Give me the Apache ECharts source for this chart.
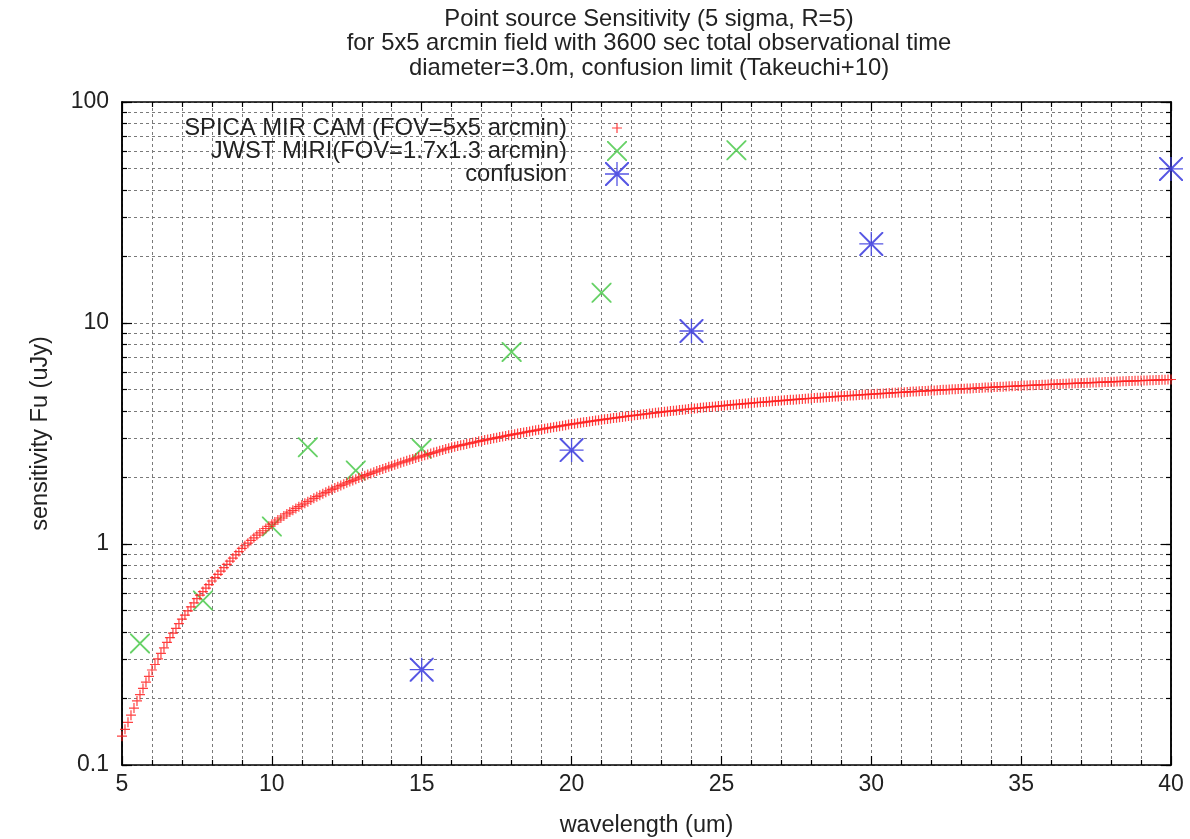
<!DOCTYPE html>
<html>
<head>
<meta charset="utf-8">
<script src="https://cdn.jsdelivr.net/npm/echarts@6/dist/echarts.min.js"></script>
<style>
html,body{margin:0;padding:0;background:#fff;}
#chart{width:1190px;height:839px;}
</style>
</head>
<body>
<div id="chart"></div>
<script>
// ---- data ----
const titleLines = [
  'Point source Sensitivity (5 sigma, R=5)',
  'for 5x5 arcmin field with 3600 sec total observational time',
  'diameter=3.0m, confusion limit (Takeuchi+10)'
];
const seriesNames = ['SPICA MIR CAM (FOV=5x5 arcmin)', 'JWST MIRI(FOV=1.7x1.3 arcmin)', 'confusion'];
const xAxisName = 'wavelength (um)';
const yAxisName = 'sensitivity Fu (uJy)';
const yLabelValues = [0.1, 1, 10, 100];
const yGridValues = [0.1,0.2,0.3,0.4,0.5,0.6,0.7,0.8,0.9,1,2,3,4,5,6,7,8,9,10,20,30,40,50,60,70,80,90,100];

const spicaWave = [
5.0,5.1,5.2,5.3,5.4,5.5,5.6,5.7,5.8,5.9,
6.0,6.1,6.2,6.3,6.4,6.5,6.6,6.7,6.8,6.9,
7.0,7.1,7.2,7.3,7.4,7.5,7.6,7.7,7.8,7.9,
8.0,8.1,8.2,8.3,8.4,8.5,8.6,8.7,8.8,8.9,
9.0,9.1,9.2,9.3,9.4,9.5,9.6,9.7,9.8,9.9,
10.0,10.1,10.2,10.3,10.4,10.5,10.6,10.7,10.8,10.9,
11.0,11.1,11.2,11.3,11.4,11.5,11.6,11.7,11.8,11.9,
12.0,12.1,12.2,12.3,12.4,12.5,12.6,12.7,12.8,12.9,
13.0,13.1,13.2,13.3,13.4,13.5,13.6,13.7,13.8,13.9,
14.0,14.1,14.2,14.3,14.4,14.5,14.6,14.7,14.8,14.9,
15.0,15.1,15.2,15.3,15.4,15.5,15.6,15.7,15.8,15.9,
16.0,16.1,16.2,16.3,16.4,16.5,16.6,16.7,16.8,16.9,
17.0,17.1,17.2,17.3,17.4,17.5,17.6,17.7,17.8,17.9,
18.0,18.1,18.2,18.3,18.4,18.5,18.6,18.7,18.8,18.9,
19.0,19.1,19.2,19.3,19.4,19.5,19.6,19.7,19.8,19.9,
20.0,20.1,20.2,20.3,20.4,20.5,20.6,20.7,20.8,20.9,
21.0,21.1,21.2,21.3,21.4,21.5,21.6,21.7,21.8,21.9,
22.0,22.1,22.2,22.3,22.4,22.5,22.6,22.7,22.8,22.9,
23.0,23.1,23.2,23.3,23.4,23.5,23.6,23.7,23.8,23.9,
24.0,24.1,24.2,24.3,24.4,24.5,24.6,24.7,24.8,24.9,
25.0,25.1,25.2,25.3,25.4,25.5,25.6,25.7,25.8,25.9,
26.0,26.1,26.2,26.3,26.4,26.5,26.6,26.7,26.8,26.9,
27.0,27.1,27.2,27.3,27.4,27.5,27.6,27.7,27.8,27.9,
28.0,28.1,28.2,28.3,28.4,28.5,28.6,28.7,28.8,28.9,
29.0,29.1,29.2,29.3,29.4,29.5,29.6,29.7,29.8,29.9,
30.0,30.1,30.2,30.3,30.4,30.5,30.6,30.7,30.8,30.9,
31.0,31.1,31.2,31.3,31.4,31.5,31.6,31.7,31.8,31.9,
32.0,32.1,32.2,32.3,32.4,32.5,32.6,32.7,32.8,32.9,
33.0,33.1,33.2,33.3,33.4,33.5,33.6,33.7,33.8,33.9,
34.0,34.1,34.2,34.3,34.4,34.5,34.6,34.7,34.8,34.9,
35.0,35.1,35.2,35.3,35.4,35.5,35.6,35.7,35.8,35.9,
36.0,36.1,36.2,36.3,36.4,36.5,36.6,36.7,36.8,36.9,
37.0,37.1,37.2,37.3,37.4,37.5,37.6,37.7,37.8,37.9,
38.0,38.1,38.2,38.3,38.4,38.5,38.6,38.7,38.8,38.9,
39.0,39.1,39.2,39.3,39.4,39.5,39.6,39.7,39.8,39.9,
40.0
];
const spicaSens = [
0.135,0.145,0.156,0.168,0.181,0.195,0.208,0.222,0.237,0.252,
0.269,0.285,0.302,0.320,0.339,0.359,0.377,0.395,0.415,0.436,
0.457,0.477,0.498,0.519,0.542,0.566,0.587,0.609,0.632,0.655,
0.680,0.704,0.729,0.754,0.781,0.808,0.836,0.864,0.893,0.924,
0.955,0.982,1.009,1.038,1.067,1.096,1.122,1.148,1.175,1.202,
1.230,1.257,1.284,1.311,1.339,1.368,1.394,1.421,1.448,1.475,
1.503,1.529,1.555,1.582,1.609,1.637,1.662,1.688,1.714,1.740,
1.766,1.791,1.816,1.841,1.866,1.892,1.916,1.940,1.964,1.989,
2.014,2.038,2.063,2.087,2.113,2.138,2.162,2.186,2.210,2.235,
2.259,2.283,2.307,2.331,2.355,2.380,2.403,2.426,2.450,2.474,
2.498,2.521,2.544,2.567,2.591,2.615,2.639,2.664,2.689,2.713,
2.739,2.757,2.777,2.796,2.815,2.835,2.854,2.874,2.894,2.914,
2.934,2.953,2.971,2.990,3.008,3.027,3.046,3.065,3.084,3.103,
3.123,3.141,3.159,3.177,3.195,3.214,3.232,3.251,3.270,3.289,
3.308,3.325,3.343,3.360,3.378,3.396,3.414,3.432,3.450,3.469,
3.487,3.503,3.519,3.536,3.552,3.568,3.585,3.602,3.618,3.635,
3.652,3.667,3.682,3.697,3.713,3.728,3.744,3.759,3.775,3.790,
3.806,3.821,3.835,3.850,3.864,3.879,3.894,3.908,3.923,3.938,
3.953,3.967,3.981,3.994,4.008,4.022,4.036,4.050,4.064,4.078,
4.092,4.105,4.118,4.131,4.143,4.156,4.169,4.182,4.195,4.208,
4.221,4.233,4.246,4.258,4.270,4.282,4.295,4.307,4.320,4.332,
4.344,4.356,4.367,4.378,4.389,4.401,4.412,4.424,4.435,4.446,
4.458,4.468,4.479,4.490,4.500,4.511,4.522,4.532,4.543,4.554,
4.565,4.575,4.585,4.595,4.605,4.615,4.625,4.635,4.645,4.655,
4.666,4.675,4.685,4.695,4.704,4.714,4.724,4.734,4.744,4.753,
4.763,4.772,4.782,4.791,4.801,4.810,4.819,4.829,4.838,4.848,
4.857,4.866,4.875,4.884,4.893,4.902,4.911,4.920,4.929,4.938,
4.947,4.956,4.965,4.973,4.982,4.991,5.000,5.008,5.017,5.026,
5.035,5.043,5.051,5.060,5.068,5.077,5.085,5.094,5.102,5.110,
5.119,5.127,5.135,5.143,5.151,5.159,5.167,5.175,5.184,5.192,
5.200,5.208,5.215,5.223,5.231,5.238,5.246,5.254,5.262,5.270,
5.277,5.285,5.292,5.299,5.307,5.314,5.321,5.329,5.336,5.343,
5.351,5.358,5.364,5.371,5.378,5.385,5.392,5.399,5.406,5.413,
5.420,5.427,5.433,5.440,5.447,5.453,5.460,5.466,5.473,5.480,
5.487,5.493,5.499,5.506,5.512,5.519,5.525,5.531,5.538,5.544,
5.550
];

const jwstWave = [5.6, 7.7, 10.0, 11.2, 12.8, 15.0, 18.0, 21.0, 25.5];
const jwstSens = [0.355, 0.555, 1.2, 2.74, 2.15, 2.7, 7.4, 13.7, 60.5];

const confWave = [15, 20, 24, 30, 40];
const confSens = [0.27, 2.66, 9.2, 22.8, 49.8];

// ---- styling ----
const FONT = '"Liberation Sans", Arial, Helvetica, sans-serif';
const FS = 23.5;
const FS_T = 23.8;
const TXT = '#222';
const GRIDC = '#7a7a7a';
const plusPath = 'path://M4.4,0L5.6,0L5.6,4.4L10,4.4L10,5.6L5.6,5.6L5.6,10L4.4,10L4.4,5.6L0,5.6L0,4.4L4.4,4.4Z';
const crossPath = 'path://M0,0L1.3,0L10,8.7L18.7,0L20,0L20,1.3L11.3,10L20,18.7L20,20L18.7,20L10,11.3L1.3,20L0,20L0,18.7L8.7,10L0,1.3Z';
const starPath = 'path://M0,9.45L20,9.45L20,10.55L0,10.55Z M9.45,0L10.55,0L10.55,20L9.45,20Z M0,0L1.2,0L10,8.8L18.8,0L20,0L20,1.2L11.2,10L20,18.8L20,20L18.8,20L10,11.2L1.2,20L0,20L0,18.8L8.8,10L0,1.2Z';

const COLORS = ['#ff2020', '#55cc55', '#4444e0'];
const legendIcons = [plusPath, crossPath, starPath];
const legendSizes = [10, 20, 24];
const legendY = [127, 150, 173];
const legendMarkX = 617;

function zip(a, b) { return a.map((v, i) => [v, b[i]]); }

const chart = echarts.init(document.getElementById('chart'), null, {renderer: 'canvas'});

const gridLeft = 122, gridRight = 1171, gridTop = 102, gridBottom = 765;

const dashed = {show: true, lineStyle: {color: GRIDC, width: 1, type: [3, 3]}};

function yAxisDef(pos, tickVals, tickLen, showLabel, showSplit) {
  return {
    type: 'log', logBase: 10, min: 0.1, max: 100, position: pos,
    axisLine: {show: true, onZero: false, lineStyle: {color: '#000', width: 1.5}},
    axisTick: {show: true, inside: true, length: tickLen, customValues: tickVals, lineStyle: {color: '#000', width: 1.2}},
    axisLabel: {show: showLabel, customValues: yLabelValues, margin: 13, fontFamily: FONT, fontSize: 23, color: TXT,
      formatter: v => String(v)},
    splitLine: showSplit ? dashed : {show: false},
    minorTick: {show: false}
  };
}

function xAxisDef(pos, showLabel, showSplit) {
  return {
    type: 'value', min: 5, max: 40, interval: 5, position: pos,
    axisLine: {show: true, onZero: false, lineStyle: {color: '#000', width: 1.5}},
    axisTick: {show: true, inside: true, length: 9, lineStyle: {color: '#000', width: 1.2}},
    minorTick: {show: true, splitNumber: 5, length: 5, lineStyle: {color: '#000', width: 1.2}},
    axisLabel: {show: showLabel, margin: 8, fontFamily: FONT, fontSize: 23, color: TXT},
    splitLine: showSplit ? dashed : {show: false},
    minorSplitLine: showSplit ? dashed : {show: false},
    name: showLabel ? xAxisName : '',
    nameLocation: 'middle', nameGap: 49,
    nameTextStyle: {fontFamily: FONT, fontSize: FS, color: TXT}
  };
}

const yMain = yAxisDef('left', yGridValues, 5, true, true);
yMain.name = yAxisName;
yMain.nameLocation = 'middle';
yMain.nameGap = 69;
yMain.nameTextStyle = {fontFamily: FONT, fontSize: FS, color: TXT};

const legends = seriesNames.map((n, i) => {
  const w = legendSizes[i];
  return {
    data: [{name: n, icon: legendIcons[i]}],
    orient: 'vertical', align: 'right',
    right: 1190 - (legendMarkX + w / 2),
    top: legendY[i] - 12,
    padding: 0,
    itemWidth: w, itemHeight: w,
    selectedMode: false,
    textStyle: {fontFamily: FONT, fontSize: FS_T, color: TXT, lineHeight: 26, padding: [0, 45 - w / 2, 0, 0]}
  };
});

const option = {
  animation: false,
  backgroundColor: '#fff',
  title: {
    text: titleLines.join('\n'),
    left: 644, top: 2, textAlign: 'center',
    textStyle: {fontFamily: FONT, fontSize: FS_T, fontWeight: 'normal', color: TXT, lineHeight: 24.5}
  },
  legend: legends,
  grid: {left: gridLeft, right: 1190 - gridRight, top: gridTop, bottom: 839 - gridBottom,
    containLabel: false, outerBoundsMode: 'none'},
  xAxis: [xAxisDef('bottom', true, true), xAxisDef('top', false, false)],
  yAxis: [
    yMain,
    yAxisDef('left', yLabelValues, 10, false, false),
    yAxisDef('right', yGridValues, 5, false, false),
    yAxisDef('right', yLabelValues, 10, false, false)
  ],
  series: [
    {
      name: seriesNames[0], type: 'scatter', xAxisIndex: 0, yAxisIndex: 0,
      data: zip(spicaWave, spicaSens), symbol: plusPath, symbolSize: 10,
      itemStyle: {color: COLORS[0], opacity: 0.85}, clip: false, z: 3
    },
    {
      name: seriesNames[1], type: 'scatter', xAxisIndex: 0, yAxisIndex: 0,
      data: zip(jwstWave, jwstSens), symbol: crossPath, symbolSize: 20,
      itemStyle: {color: COLORS[1], opacity: 0.9}, clip: false, z: 2
    },
    {
      name: seriesNames[2], type: 'scatter', xAxisIndex: 0, yAxisIndex: 0,
      data: zip(confWave, confSens), symbol: starPath, symbolSize: 24,
      itemStyle: {color: COLORS[2], opacity: 0.9}, clip: false, z: 4
    }
  ]
};
chart.setOption(option);
</script>
</body>
</html>
